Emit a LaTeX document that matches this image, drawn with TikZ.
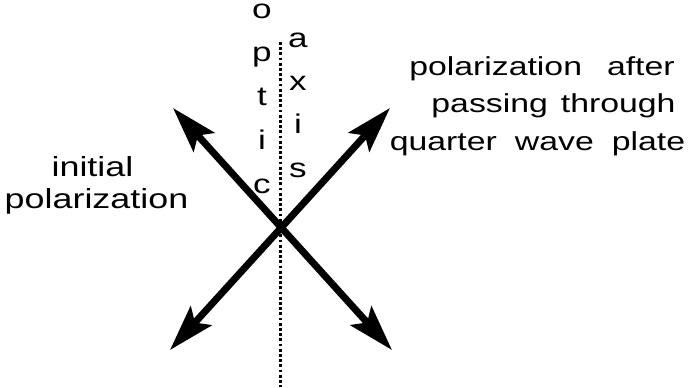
\documentclass[tikz,border=0pt]{standalone}
\usepackage{fontspec}
\setmainfont{Liberation Sans}[FakeStretch=1.3]
\usetikzlibrary{arrows.meta}
\tikzset{
  pol/.style={{Stealth[length=23pt,width=14pt,inset=4.5pt]}-{Stealth[length=23pt,width=14pt,inset=4.5pt]},line width=3.5pt},
  axisline/.style={line width=1.5pt,dash pattern=on 1.4pt off 1.2pt},
  lbl/.style={align=center,inner sep=0pt,anchor=base},
}
\begin{document}
\begin{tikzpicture}[x=0.5pt,y=-0.5pt]
\useasboundingbox (0,0) rectangle (691,387);
% optic axis
\coordinate (axtop) at (280,42);
\coordinate (axbot) at (280,387);
\draw[axisline] (axtop) -- (axbot);
\node[lbl,font=\fontsize{13.5}{21.85}\selectfont] (optic) at (262,193) {o\\p\\t\\i\\c};
\node[lbl,font=\fontsize{13.5}{21.65}\selectfont] (axis) at (298,177) {a\\x\\i\\s};
% the two polarizations
\coordinate (ul) at (173,108);
\coordinate (lr) at (392,350);
\coordinate (ur) at (390,108);
\coordinate (ll) at (170,350);
\draw[pol] (ul) -- (lr);
\draw[pol] (ll) -- (ur);
% labels
\node[lbl,font=\fontsize{13.8}{15.6}\selectfont] (initial) at (96.5,208) {initial\hspace*{4pt}\\polarization};
\node[lbl,font=\fontsize{13}{18.75}\selectfont] (after) at (537.5,150)
  {\hspace*{4.5pt}polarization\hspace{12.5pt}after\\
   \hspace*{16pt}passing\hspace{6.5pt}through\\
   quarter\hspace{9pt}wave\hspace{9pt}plate};
\end{tikzpicture}
\end{document}
